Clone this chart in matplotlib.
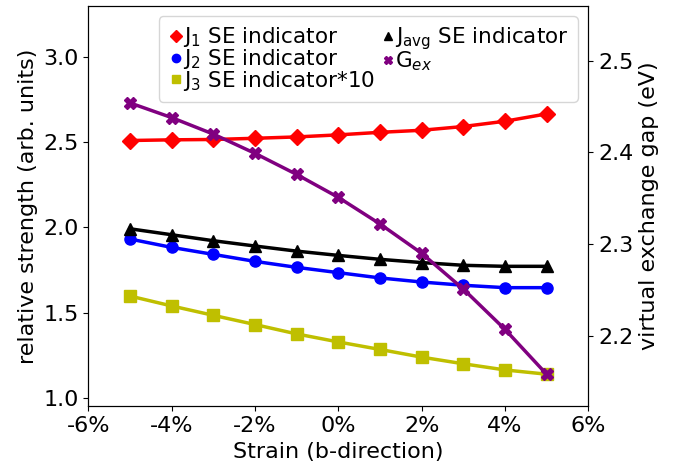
import numpy as np
import matplotlib
matplotlib.use("Agg")
import matplotlib.pyplot as plt
from matplotlib.lines import Line2D

# strain values (%)
strain = [-5, -4, -3, -2, -1, 0, 1, 2, 3, 4, 5]

j1 = [2.509, 2.513, 2.515, 2.522, 2.530, 2.542, 2.557, 2.569, 2.591, 2.622, 2.665]
j2 = [1.932, 1.883, 1.842, 1.801, 1.766, 1.735, 1.704, 1.680, 1.661, 1.647, 1.647]
j3x10 = [1.598, 1.540, 1.485, 1.431, 1.376, 1.329, 1.285, 1.240, 1.201, 1.165, 1.140]
javg = [1.992, 1.957, 1.922, 1.891, 1.861, 1.836, 1.813, 1.794, 1.778, 1.772, 1.772]
gex = [2.454, 2.438, 2.420, 2.399, 2.376, 2.351, 2.322, 2.290, 2.251, 2.207, 2.158]

xticks = [-6, -4, -2, 0, 2, 4, 6]
xticklabels = ['-6%', '-4%', '-2%', '0%', '2%', '4%', '6%']

plt.rcParams['font.size'] = 16

fig = plt.figure(figsize=(6.89, 4.71), dpi=100)
ax = fig.add_axes([0.128, 0.137, 0.726, 0.851])
ax2 = ax.twinx()

lw = 2.5
ms = 8
series = [
    (ax, j1, 'D', 'red', 'J$_1$ SE indicator'),
    (ax, j2, 'o', 'blue', 'J$_2$ SE indicator'),
    (ax, j3x10, 's', 'y', 'J$_3$ SE indicator*10'),
    (ax, javg, '^', 'black', r'J$_{\rm avg}$ SE indicator'),
    (ax2, gex, 'X', 'purple', 'G$_{ex}$'),
]
handles = []
for a, vals, m, c, lab in series:
    a.plot(strain, vals, '-', marker=m, color=c, lw=lw, ms=ms)
    # legend shows marker only
    handles.append(Line2D([], [], ls='none', marker=m, color=c, ms=6, label=lab))

ax.set_xlim(-6, 6)
ax.set_xticks(xticks)
ax.set_xticklabels(xticklabels)
ax.set_ylim(0.951, 3.299)
ax.set_yticks([1.0, 1.5, 2.0, 2.5, 3.0])
ax2.set_ylim(2.123, 2.560)
ax2.set_yticks([2.2, 2.3, 2.4, 2.5])

ax.set_xlabel('Strain (b-direction)')
ax.set_ylabel('relative strength (arb. units)')
ax2.set_ylabel('virtual exchange gap (eV)')

ax2.legend(handles=handles, loc='upper right', ncol=2, fontsize=15.5,
           handlelength=0.73, handletextpad=0.0, columnspacing=0.2,
           labelspacing=-0.1)

fig.savefig('out.png', dpi=100)
